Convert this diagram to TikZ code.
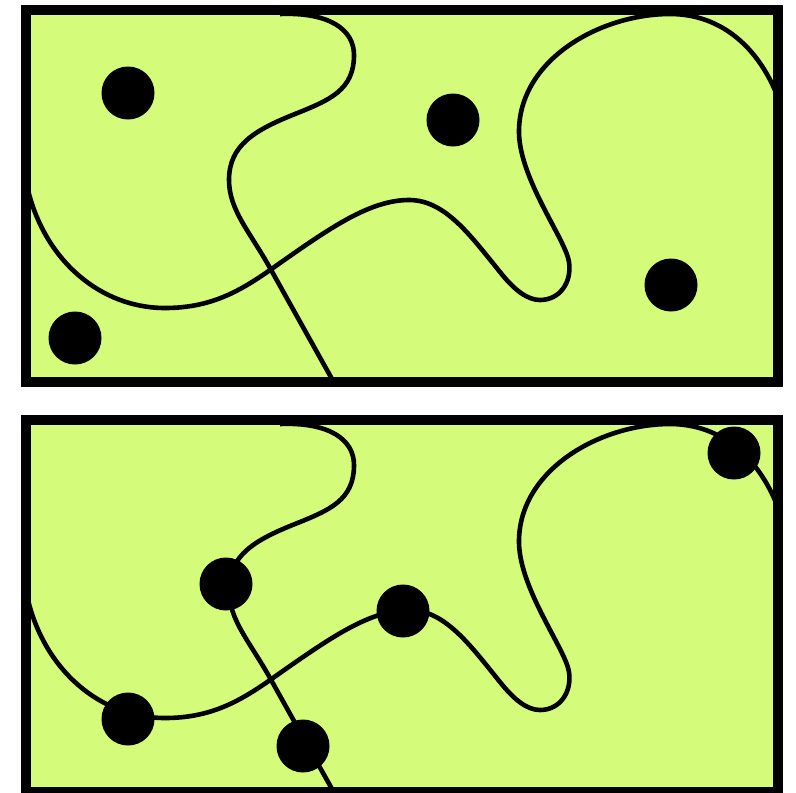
\documentclass[tikz,border=0pt]{standalone}
\definecolor{panelgreen}{RGB}{213,251,122}
\tikzset{
  panel/.style={draw=black, line width=10pt},
  wire/.style={draw=black, line width=4.6pt, line join=round},
  dot/.style={circle, fill=black, minimum size=53pt, inner sep=0pt, outer sep=0pt},
}
\newcommand{\panelcurves}{%
  \fill[panelgreen] (26,10) rectangle (778,382);
  \begin{scope}
    \clip (26,10) rectangle (778,382);
    \draw[wire] (280,14) .. controls (330,12) and (354,30) .. (354,55)
      .. controls (354,90) and (330,100) .. (295,114)
      .. controls (255,130) and (229,145) .. (229,180)
      .. controls (229,210) and (250,232) .. (270,268)
      -- (337,388);
    \draw[wire] (28,190) .. controls (45,260) and (100,308) .. (165,308)
      .. controls (215,308) and (245,288) .. (280,263)
      .. controls (330,228) and (370,200) .. (409,200)
      .. controls (445,200) and (470,235) .. (500,272)
      .. controls (515,291) and (528,300) .. (540,300)
      .. controls (560,300) and (572,282) .. (569,262)
      .. controls (566,240) and (520,180) .. (519,133)
      .. controls (518,60) and (600,14) .. (670,14)
      .. controls (730,14) and (770,60) .. (785,120);
  \end{scope}
  \draw[panel] (26,10) rectangle (778,382);
}
\begin{document}
\begin{tikzpicture}[x=1pt, y=-1pt]
  \useasboundingbox (0,0) rectangle (796,793);
  % top panel
  \panelcurves
  \node[dot] (t1) at (128,93) {};
  \node[dot] (t2) at (75,338) {};
  \node[dot] (t3) at (453,120) {};
  \node[dot] (t4) at (671,285) {};
  % bottom panel
  \begin{scope}[shift={(0,410)}]
    \panelcurves
  \end{scope}
  \node[dot] (b1) at (226,584) {};
  \node[dot] (b2) at (128,719) {};
  \node[dot] (b3) at (303,746) {};
  \node[dot] (b4) at (403,611) {};
  \node[dot] (b5) at (734,453) {};
\end{tikzpicture}
\end{document}
